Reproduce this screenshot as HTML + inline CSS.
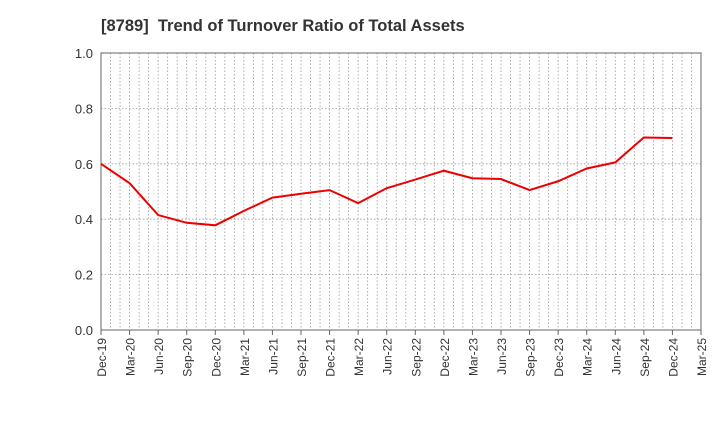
<!DOCTYPE html>
<html><head><meta charset="utf-8"><style>
body{margin:0;background:#fff;font-family:"Liberation Sans",Arial,sans-serif;}
</style></head><body>
<svg id="chart" width="720" height="440" xmlns="http://www.w3.org/2000/svg">
<text x="101" y="31" font-size="16.5" font-weight="bold" fill="#333" xml:space="preserve">[8789]  Trend of Turnover Ratio of Total Assets</text>
<g id="grid"></g><g id="axes"></g><g id="series"></g>
</svg>
<script>
const categories=["Dec-19","Mar-20","Jun-20","Sep-20","Dec-20","Mar-21","Jun-21","Sep-21","Dec-21","Mar-22","Jun-22","Sep-22","Dec-22","Mar-23","Jun-23","Sep-23","Dec-23","Mar-24","Jun-24","Sep-24","Dec-24","Mar-25"];
const values=[0.60,0.53,0.415,0.387,0.378,0.43,0.478,0.492,0.505,0.458,0.512,0.543,0.575,0.548,0.545,0.505,0.537,0.583,0.605,0.695,0.693];
const yTicks=["0.0","0.2","0.4","0.6","0.8","1.0"];
const ns="http://www.w3.org/2000/svg";
const L=101,R=701,T=53,B=330;
const x=i=>L+(R-L)*i/(categories.length-1);
const y=v=>B-(B-T)*v/1.0;
function mk(p,tag,a){const e=document.createElementNS(ns,tag);for(const k in a)e.setAttribute(k,a[k]);p.appendChild(e);return e;}
const grid=document.getElementById('grid'),axes=document.getElementById('axes'),ser=document.getElementById('series');
const bg=mk(grid,'rect',{x:L,y:T,width:R-L,height:B-T,fill:'#fff',stroke:'none'});


const nMonths=(categories.length-1)*3;
for(let m=1;m<nMonths;m++){const xx=L+(R-L)*m/nMonths;
const g=mk(grid,'line',{x1:xx,x2:xx,y1:T,y2:B,stroke:'#999','stroke-width':0.8,'stroke-dasharray':'1.5,2'});

}
yTicks.forEach(t=>{const v=parseFloat(t),yy=y(v);
const g=mk(grid,'line',{x1:L,x2:R,y1:yy,y2:yy,stroke:'#999','stroke-width':0.8,'stroke-dasharray':'1.5,2'});


const tx=mk(axes,'text',{x:L-8,y:yy+5,'text-anchor':'end','font-size':13,fill:'#333'});tx.textContent=t;

});
const fr=mk(axes,'rect',{x:L,y:T,width:R-L,height:B-T,fill:'none',stroke:'#666','stroke-width':1});


categories.forEach((c,i)=>{const xx=x(i);
const tk=mk(axes,'line',{x1:xx,x2:xx,y1:B,y2:B+5,stroke:'#666'});


const tx=mk(axes,'text',{x:xx+5,y:B+8,'text-anchor':'end','font-size':12,fill:'#333',transform:`rotate(-90 ${xx+5} ${B+8})`});tx.textContent=c;

});
const pl=mk(ser,'polyline',{points:values.map((v,i)=>x(i)+','+y(v)).join(' '),fill:'none',stroke:'#e00','stroke-width':2});


</script>
</body></html>
